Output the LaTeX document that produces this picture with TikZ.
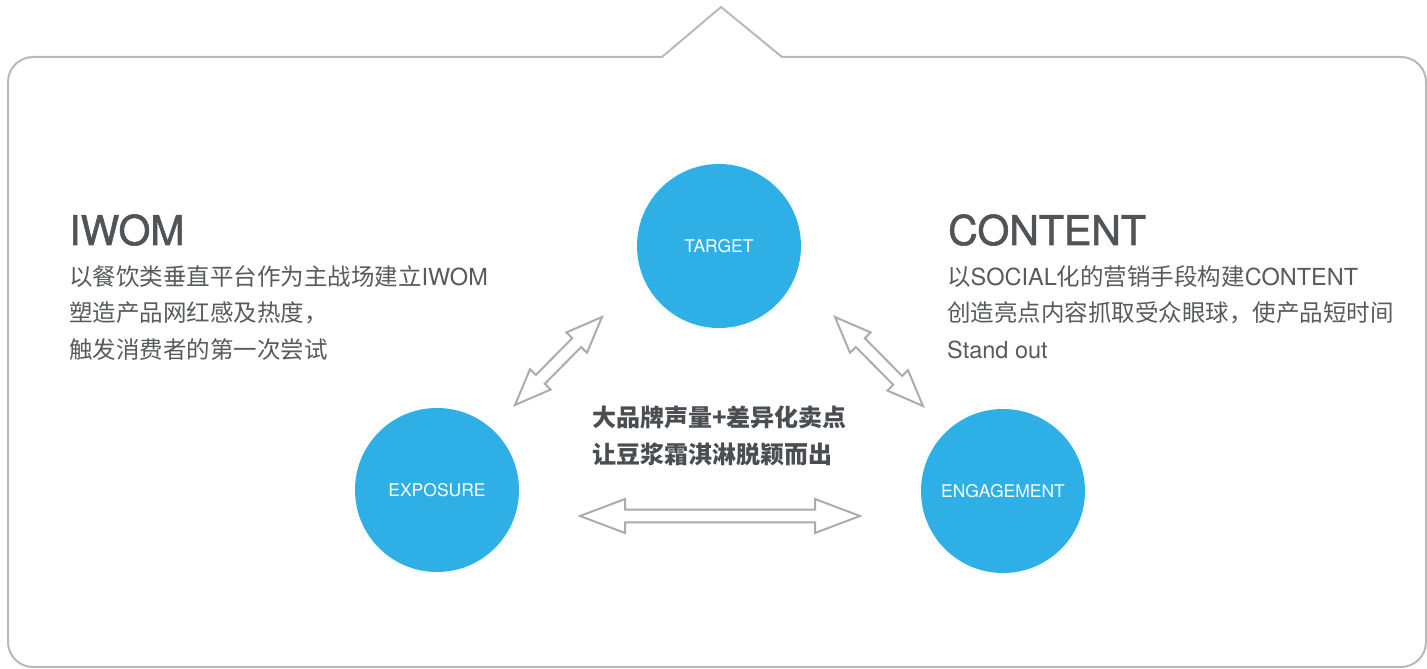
\documentclass[tikz,border=0pt]{standalone}
\usepackage{fontspec}
\setmainfont{TeX Gyre Heros}
\newfontfamily\headfont[FakeBold=1.4]{TeX Gyre Heros}
\newfontfamily\cjk{Noto Sans CJK SC}
\usetikzlibrary{calc}

\definecolor{bubbleblue}{RGB}{46,175,230}
\definecolor{framegray}{RGB}{185,185,185}
\definecolor{arrowgray}{RGB}{172,172,172}
\definecolor{headgray}{RGB}{80,84,88}
\definecolor{textgray}{RGB}{88,90,93}
\definecolor{claimgray}{RGB}{74,77,81}

\tikzset{
  frame/.style={draw=framegray, line width=2pt, line join=miter},
  arrowline/.style={draw=arrowgray, line width=2pt, fill=white, line join=miter},
  bubble/.style={circle, fill=bubbleblue, minimum size=164pt, inner sep=0pt,
    text=white, font=\fontsize{17.5}{17.5}\selectfont},
  title/.style={anchor=base west, inner sep=0pt, text=headgray,
    font=\headfont\fontsize{41}{41}\selectfont},
  body/.style={anchor=base west, inner sep=0pt, text=textgray,
    font=\fontsize{23.5}{23.5}\selectfont},
  claim/.style={anchor=base west, inner sep=0pt, text=claimgray,
    font=\cjk\bfseries\fontsize{24}{24}\selectfont},
  % hollow two-headed arrow: half length, head length, head half width
  pics/twoway/.style n args={3}{code={
    \draw[arrowline] ({-(#1)},0) -- ({-(#1)+#2},#3) -- ({-(#1)+#2},6.3)
      -- ({#1-#2},6.3) -- ({#1-#2},#3) -- ({#1},0) -- ({#1-#2},-#3)
      -- ({#1-#2},-6.3) -- ({-(#1)+#2},-6.3) -- ({-(#1)+#2},-#3) -- cycle;
  }}
}

% two-headed arrow between two points
\newcommand{\bothways}[4]{%
  \path let \p1=($(#2)-(#1)$) in \pgfextra{%
    \pgfmathsetmacro\arrlen{veclen(\x1,\y1)/2}%
    \pgfmathsetmacro\arrdir{atan2(\y1,\x1)}%
    \xdef\arrlen{\arrlen}\xdef\arrdir{\arrdir}};
  \path ($(#1)!0.5!(#2)$) pic[rotate=\arrdir] {twoway={\arrlen}{#3}{#4}};
}

\begin{document}
\begin{tikzpicture}[x=1pt, y=1pt]
    \useasboundingbox (0,0) rectangle (1427,669);

    % outline with the pointer on top
    \draw[frame] (721,662) -- (782,612) -- (1401,612)
        arc[start angle=90, end angle=0, radius=25] -- (1426,27)
        arc[start angle=0, end angle=-90, radius=25] -- (33,2)
        arc[start angle=270, end angle=180, radius=25] -- (8,587)
        arc[start angle=180, end angle=90, radius=25] -- (662,612) -- cycle;

    \node[bubble] (target) at (719,423) {TARGET};
    \node[bubble] (expo) at (437,179) {EXPOSURE};
    \node[bubble] (engage) at (1003,178) {ENGAGEMENT};

    \coordinate (a1) at ($(expo.center)+(78,85)$);
    \coordinate (a2) at ($(target.center)+(-117,-71)$);
    \coordinate (b1) at ($(target.center)+(116,-71)$);
    \coordinate (b2) at ($(engage.center)+(-80,85)$);
    \coordinate (c1) at ($(expo.center)+(143,-26)$);
    \coordinate (c2) at ($(engage.center)+(-143,-25)$);

    \bothways{a1}{a2}{36}{14.5}
    \bothways{b1}{b2}{36}{14.5}
    \bothways{c1}{c2}{45}{17}

    % left column
    \node[title] (iwom) at (69,424) {IWOM};
    \node[body] (iwom1) at (69,383.5) {{\cjk 以餐饮类垂直平台作为主战场建立}IWOM};
    \node[body] (iwom2) at (69,347) {\cjk 塑造产品网红感及热度，};
    \node[body] (iwom3) at (69,310.5) {\cjk 触发消费者的第一次尝试};

    % right column
    \node[title] (content) at (948,424) {CONTENT};
    \node[body] (cont1) at (947,383.5) {{\cjk 以}SOCIAL{\cjk 化的营销手段构建}CONTENT};
    \node[body] (cont2) at (947,347) {\cjk 创造亮点内容抓取受众眼球，使产品短时间};
    \node[body] (cont3) at (947,310.5) {Stand out};

    % middle
    \node[claim] (claim1) at (592,242.7) {大品牌声量+差异化卖点};
    \node[claim] (claim2) at (592,205) {让豆浆霜淇淋脱颖而出};
\end{tikzpicture}
\end{document}
